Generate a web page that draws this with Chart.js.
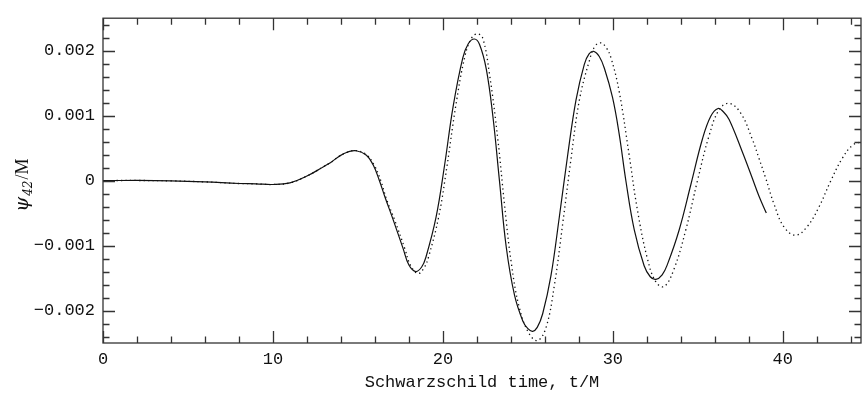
<!DOCTYPE html>
<html>
<head>
<meta charset="utf-8">
<script src="https://cdn.jsdelivr.net/npm/chart.js@4/dist/chart.umd.min.js"></script>
<style>
  html, body { margin: 0; padding: 0; background: #fff; }
  #wrap { width: 863px; height: 401px; }
</style>
</head>
<body>
<div id="wrap"><canvas id="myChart"></canvas></div>
<script>
// solid curve (t/M, psi42/M)
var solidT = [0, 2, 4, 6, 8, 9, 10, 11, 12, 12.95, 13.4, 13.93, 14.4, 14.9, 15.5, 15.9, 16.25, 16.6,
	17.07, 17.65, 18.0, 18.4, 18.75, 19.0, 19.6, 20.1, 20.6, 21.17, 21.5, 21.85, 22.15, 22.55, 22.94,
	23.33, 23.72, 24.21, 24.7, 25.0, 25.28, 25.55, 25.87, 26.36, 26.85, 27.34, 27.83, 28.32, 28.6,
	28.87, 29.2, 29.5, 29.98, 30.37, 30.77, 31.26, 31.84, 32.2, 32.53, 32.9, 33.21, 33.9, 34.59,
	35.27, 35.76, 36.19, 36.5, 36.84, 37.62, 38.2, 38.6, 39.03];
var solidPsi = [0, 0.000002, -0.000004, -0.00002, -0.000045, -0.00005, -0.00006, -0.000035, 0.00007,
	0.00021, 0.00028, 0.00038, 0.00044, 0.00046, 0.00039, 0.00024, 0.00001, -0.00026,
	-0.0006, -0.00104, -0.0013, -0.0014, -0.00133, -0.00118, -0.00056, 0.00024, 0.00114, 0.00189,
	0.00211, 0.00218, 0.0021, 0.00172, 0.00099,
	-0.00001, -0.00101, -0.00176, -0.00216, -0.00228, -0.00232, -0.00226, -0.00205, -0.00146,
	-0.00056, 0.00039, 0.00124, 0.00179, 0.00195,
	0.00199, 0.00191, 0.00173, 0.00128, 0.00072, -0.00001, -0.00076, -0.00131, -0.00148, -0.00152,
	-0.00145, -0.00129, -0.00076, -0.00006,
	0.00064, 0.00099, 0.00111, 0.00106, 0.00094, 0.00044, 0.00004, -0.00024, -0.0005];

// dotted curve
var dottedT = [0, 2, 4, 6, 8, 9, 10, 11, 12, 12.95, 13.4, 13.93, 14.4, 14.9, 15.5, 15.95, 16.33, 16.7,
	17.15, 17.75, 18.1, 18.55, 18.9, 19.15, 19.75, 20.25, 20.75, 21.3, 21.7, 22.05, 22.35, 22.74,
	23.23, 23.62, 24.02, 24.5, 25.08, 25.58, 26.07, 26.56, 27.05, 27.54, 28.03, 28.61, 28.95, 29.3,
	29.6, 29.89, 30.38, 30.96, 31.45, 32.04, 32.53, 33.02, 33.6, 34.29, 34.97, 35.66, 36.25, 36.84,
	37.52, 38.2, 38.6, 38.99, 39.48, 40.06, 40.75, 41.43, 42.12, 42.81, 43.49, 44.08, 44.6];
var dottedPsi = [0, 0.000002, -0.000004, -0.00002, -0.000045, -0.00005, -0.00006, -0.000035, 0.00007,
	0.00021, 0.00028, 0.00038, 0.00044, 0.00046, 0.0004, 0.00024, 0.00001, -0.0003,
	-0.0006, -0.00104, -0.00131, -0.00143, -0.00134, -0.00118, -0.00056, 0.00024, 0.00114, 0.00192,
	0.0022, 0.00226, 0.00219, 0.00164,
	0.00064, -0.00036, -0.00126, -0.00196, -0.00236, -0.00246, -0.00226, -0.00161, -0.00066, 0.00034,
	0.00124, 0.00184, 0.00207, 0.00212,
	0.00205, 0.00189, 0.00136, 0.00039, -0.00046, -0.00121, -0.00156, -0.00163, -0.00136, -0.00076,
	-0.00001, 0.00069, 0.00109, 0.00119,
	0.00104, 0.00064, 0.00034, 0.00004, -0.00036, -0.00071, -0.00084, -0.00071, -0.00041, -0.00001,
	0.00034, 0.00054, 0.0006];

var xTickValues = [0, 10, 20, 30, 40];
var yTickValues = [-0.002, -0.001, 0, 0.001, 0.002];

var toPoints = function (xs, ys) {
	return xs.map(function (x, i) { return { x: x, y: ys[i] }; });
};

var fontFamily = '"Liberation Mono", "DejaVu Sans Mono", monospace';

// box, inward ticks on all four sides, y title with subscript
var frameTicks = {
	id: 'frameTicks',
	afterDraw: function (chart) {
		var c = chart.ctx, a = chart.chartArea;
		var xs = chart.scales.x, ys = chart.scales.y;
		c.save();
		c.strokeStyle = '#333';
		c.lineWidth = 1.3;
		c.strokeRect(a.left, a.top, a.right - a.left, a.bottom - a.top);
		c.beginPath();
		for (var t = 0; t <= xs.max + 1e-9; t += 2) {
			var px = Math.round(xs.getPixelForValue(t)) + 0.5;
			var len = (t % 10 === 0) ? 12 : 6.5;
			c.moveTo(px, a.bottom); c.lineTo(px, a.bottom - len);
			c.moveTo(px, a.top); c.lineTo(px, a.top + len);
		}
		for (var k = -12; k <= 12; k++) {
			var v = k * 0.0002;
			var py = Math.round(ys.getPixelForValue(v)) + 0.5;
			var ylen = (k % 5 === 0) ? 12 : 6.5;
			c.moveTo(a.left, py); c.lineTo(a.left + ylen, py);
			c.moveTo(a.right, py); c.lineTo(a.right - ylen, py);
		}
		c.stroke();

		// rotated y title: psi_42 / M
		c.translate(22, (a.top + a.bottom) / 2 + 4);
		c.rotate(-Math.PI / 2);
		c.fillStyle = '#111';
		c.textBaseline = 'alphabetic';
		c.textAlign = 'left';
		var parts = [
			{ s: '\u03c8', f: 'italic 19px "DejaVu Serif", serif', dy: 0 },
			{ s: '42', f: 'italic 12px "DejaVu Serif", serif', dy: 4 },
			{ s: '/M', f: '18px "Liberation Serif", serif', dy: 0 }
		];
		var w = 0;
		parts.forEach(function (p) { c.font = p.f; w += c.measureText(p.s).width + 1; });
		var x0 = -w / 2;
		parts.forEach(function (p) {
			c.font = p.f;
			c.fillText(p.s, x0, 6 + p.dy);
			x0 += c.measureText(p.s).width + 1;
		});
		c.restore();
	}
};

var ctx = document.getElementById('myChart');
var myChart = new Chart(ctx, {
	type: 'line',
	data: {
		datasets: [
			{
				label: 'solid',
				data: toPoints(solidT, solidPsi),
				borderColor: '#111',
				borderWidth: 1.2,
				pointRadius: 0,
				tension: 0.4,
				fill: false
			},
			{
				label: 'dotted',
				data: toPoints(dottedT, dottedPsi),
				borderColor: '#111',
				borderWidth: 1.3,
				borderDash: [1.3, 3.2],
				pointRadius: 0,
				tension: 0.4,
				fill: false
			}
		]
	},
	options: {
		responsive: true,
		maintainAspectRatio: false,
		animation: false,
		layout: { padding: { top: 10, right: 2, left: 0, bottom: 0 } },
		plugins: {
			legend: { display: false },
			tooltip: { enabled: false }
		},
		scales: {
			x: {
				type: 'linear',
				min: 0,
				max: 44.6,
				grid: { display: false, drawTicks: false },
				border: { display: false },
				afterBuildTicks: function (scale) {
					scale.ticks = xTickValues.map(function (v) { return { value: v }; });
				},
				afterFit: function (scale) { scale.height = 58; },
				ticks: {
					color: '#111',
					padding: 6,
					maxRotation: 0,
					font: { family: fontFamily, size: 17 }
				},
				title: {
					display: true,
					text: 'Schwarzschild time, t/M',
					color: '#111',
					padding: { top: 0, bottom: 8 },
					font: { family: fontFamily, size: 17 }
				}
			},
			y: {
				min: -0.0025,
				max: 0.0025,
				grid: { display: false, drawTicks: false },
				border: { display: false },
				afterBuildTicks: function (scale) {
					scale.ticks = yTickValues.map(function (v) { return { value: v }; });
				},
				afterFit: function (scale) { scale.width = 103; },
				ticks: {
					color: '#111',
					padding: 8,
					font: { family: fontFamily, size: 17 },
					callback: function (v) {
						if (Math.abs(v) < 1e-12) return '0';
						var s = Math.abs(v).toFixed(3);
						return v < 0 ? '\u2212' + s : s;
					}
				},
				title: { display: false }
			}
		}
	},
	plugins: [frameTicks]
});
</script>
</body>
</html>
